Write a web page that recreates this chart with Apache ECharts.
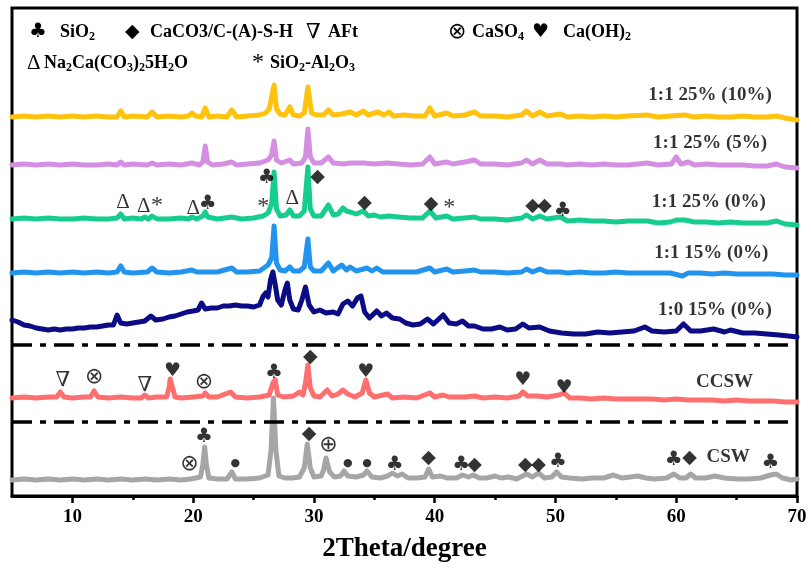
<!DOCTYPE html>
<html><head><meta charset="utf-8">
<script src="https://cdn.jsdelivr.net/npm/echarts@6/dist/echarts.min.js"></script>
<style>html,body{margin:0;padding:0;background:#fff}#c{width:811px;height:568px}</style>
</head><body><div id="c"></div>
<script>
// ---- axis ticks ----
const xMajorTicks = [10, 20, 30, 40, 50, 60, 70];
const xMinorTicks = [15, 25, 35, 45, 55, 65];

// ---- trace names, colours and vertical offsets (stacking) ----
const traceNames = ['CSW', 'CCSW', '1:0 15% (0%)', '1:1 15% (0%)', '1:1 25% (0%)', '1:1 25% (5%)', '1:1 25% (10%)'];
const traceColors = ['#A6A6A6', '#FF6F6F', '#0B0B85', '#2294EE', '#17CC8F', '#D48FE3', '#FFC20E'];
const traceOffsets = [16, 98, 161, 223, 277, 331, 379];

// ---- intensities [2theta, counts] relative to each trace's offset ----
const csw = [[5,0],[6,1],[7,0],[8,1],[9,0],[10,1],[11,0],[12,1],[13,0],[14,1],[15,0],[16,1],[17,0],[18,1],[19,0],[19.8,1],[20.6,3],[20.8,15],[20.95,33],[21.1,15],[21.3,2],[22,1],[22.8,1],[23.2,8],[23.5,1],[24.5,1],[25.5,2],[26.2,5],[26.45,30],[26.65,82],[26.85,30],[27.1,4],[27.6,2],[28.2,2],[28.8,3],[29.2,12],[29.45,36],[29.7,12],[30,3],[30.6,4],[30.8,10],[31,22],[31.3,8],[31.7,3],[32.2,4],[32.5,9],[32.8,4],[33.5,3],[34.1,5],[34.4,9],[34.8,3],[35.5,2],[36.1,4],[36.5,7],[36.9,4],[37.3,6],[37.8,2],[38.5,2],[39.2,3],[39.5,11],[39.8,3],[40.5,4],[41,2],[41.8,2],[42.3,5],[42.8,3],[43.2,5],[43.7,2],[44.3,2],[45,4],[45.5,2],[46.1,3],[46.8,1],[47.6,6],[48.1,3],[48.6,7],[49.1,2],[49.7,3],[50.1,8],[50.5,3],[51.2,2],[52.2,1],[53,2],[54,2],[54.8,5],[55.5,2],[56.2,3],[56.8,4],[57.5,2],[58.2,1],[59.2,2],[59.8,6],[60.3,2],[60.8,2],[61.2,6],[61.6,2],[62.4,2],[63.2,4],[64,2],[65,1],[66,1],[67,2],[67.8,5],[68.3,6],[68.8,2],[69.5,0],[70,1]];
const ccsw = [[5,0],[6,1],[7,0],[8,1],[8.7,1],[9,6],[9.3,1],[10,0],[11,1],[11.5,1],[11.8,7],[12.1,1],[13,0],[14,1],[15,0],[15.7,0],[16,3],[16.3,0],[17,1],[17.8,1],[18,10],[18.1,19],[18.3,10],[18.5,1],[19,0],[20,1],[20.8,2],[21,5],[21.3,1],[22,1],[23.1,6],[23.5,1],[24.5,0],[25.5,1],[26.3,3],[26.6,15],[26.8,18],[27,3],[27.5,1],[28.3,2],[28.8,6],[29.1,3],[29.3,15],[29.5,33],[29.7,10],[30,2],[30.5,1],[31.1,8],[31.5,2],[32,4],[32.4,8],[32.8,4],[33.4,1],[34,5],[34.3,18],[34.6,5],[35,1],[36.1,4],[36.5,0],[37.5,1],[38.5,0],[39.6,5],[40,1],[40.7,3],[41.2,1],[42.5,1],[43.3,2],[44,0],[45,1],[46,0],[47,2],[47.3,6],[47.7,2],[48.5,2],[49.3,1],[50.3,3],[50.7,5],[51.2,0],[52,0],[53,-1],[54,0],[55,-1],[56,-1],[57,-1],[58,-1],[59,-2],[60,-1],[61,-2],[62,-2],[63,-2],[64,-3],[65,-2],[66,-3],[67,-3],[68,-3],[69,-4],[70,-4]];
const r10s15 = [[5,15],[5.5,13],[6,10],[6.5,9],[7,7],[7.5,6],[8,5],[8.5,6],[9,5],[9.5,6],[10,6],[10.5,7],[11,7],[11.5,8],[12,8],[12.5,9],[13,10],[13.4,10],[13.7,20],[14,12],[14.5,11],[15,12],[15.5,13],[16,14],[16.5,19],[16.9,15],[17.5,16],[18,18],[18.5,19],[19,21],[19.5,23],[20,24],[20.4,25],[20.7,32],[21,26],[21.5,27],[22,27],[22.5,29],[23,29],[23.5,30],[24,29],[24.5,29],[25,28],[25.5,30],[25.8,39],[26,42],[26.2,38],[26.4,55],[26.6,63],[26.8,50],[27,35],[27.3,30],[27.6,45],[27.8,52],[28,35],[28.3,26],[28.7,25],[29,35],[29.3,48],[29.6,30],[30,23],[30.5,25],[31,22],[31.6,23],[32,21],[32.4,31],[32.8,34],[33.2,29],[33.6,37],[33.9,39],[34.2,23],[34.6,17],[35.2,24],[35.6,19],[36,22],[36.5,17],[37.1,16],[37.6,12],[38.2,10],[38.8,11],[39.4,16],[39.9,11],[40.7,20],[41.2,12],[41.8,11],[42.3,14],[42.8,9],[43.3,9],[44,6],[44.7,6],[45.4,8],[46,5],[46.7,6],[47.3,11],[47.8,7],[48.7,8],[49.5,4],[50.5,2],[51.5,1],[52.5,1],[53.5,3],[54.5,2],[55.5,3],[56.5,4],[57.4,8],[58,4],[59,3],[60,4],[60.6,11],[61.2,4],[62,4],[63.1,6],[64,3],[64.5,5],[65.5,2],[66.5,2],[67.5,1],[68.5,0],[69.3,-1],[70,-2]];
const r11s15 = [[5,0],[6,1],[7,0],[8,1],[9,0],[10,1],[11,0],[12,1],[13,0],[13.7,1],[14,7],[14.3,1],[15,0],[16.2,1],[16.6,5],[17,1],[18,0],[19,1],[19.9,3],[20.3,1],[21,1],[22,1],[23.2,5],[23.6,1],[24.5,1],[25.5,2],[26.2,8],[26.5,15],[26.7,47],[26.9,10],[27.2,3],[27.6,2],[28,6],[28.3,2],[28.8,2],[29.2,6],[29.5,34],[29.7,6],[30,2],[30.6,2],[31.2,10],[31.6,2],[32.3,8],[32.7,3],[33,6],[33.5,2],[34.4,5],[34.8,2],[35.2,5],[35.7,1],[36.5,1],[37.5,1],[38.5,1],[39.6,5],[40,1],[41,4],[41.5,1],[42.5,2],[43.3,3],[43.8,1],[45,1],[46,0],[47.2,1],[47.6,4],[48.1,1],[48.7,4],[49.3,1],[50.4,1],[51,0],[52,1],[53,0],[54,0],[55,1],[56,0],[57.6,0],[58.5,0],[59.5,0],[60.5,-3],[61,0],[62,0],[63,-1],[64,0],[65,-1],[66,-1],[67,-1],[68,-1],[69,-2],[70,-2]];
const r11s25a0 = [[5,0],[6,1],[7,0],[8,1],[9,0],[10,0],[11,1],[12,0],[13,0],[13.7,1],[14,5],[14.3,0],[15,1],[15.7,0],[16,2],[16.3,0],[16.6,3],[17,0],[18,0],[19,1],[19.6,0],[19.9,2],[20.3,0],[20.8,3],[21,7],[21.2,2],[22,0],[23.2,2],[24,0],[25,1],[25.8,3],[26.2,6],[26.5,15],[26.7,47],[26.9,10],[27.2,3],[27.7,4],[28,9],[28.3,3],[28.8,3],[29.2,8],[29.5,52],[29.7,10],[30,3],[30.6,3],[31.2,14],[31.6,4],[32,5],[32.4,11],[32.7,8],[33,7],[33.5,5],[34.1,8],[34.5,3],[35,4],[35.5,2],[36.2,3],[37,2],[38,1],[39,1],[39.6,8],[40.1,1],[41,3],[41.5,0],[42.5,1],[43.3,2],[43.8,0],[45,0],[46,-1],[47.2,1],[47.6,4],[48.1,0],[48.7,3],[49.3,0],[50.4,2],[51,-2],[52,-1],[53,-2],[54,-2],[55,-3],[56,-2],[57.6,-2],[58.5,-4],[59.5,-3],[60,-1],[60.7,-1],[61.5,-3],[62.5,-3],[63.5,-4],[64.5,-3],[65.5,-4],[66.5,-4],[67.5,-4],[68.3,-2],[69,-5],[70,-6]];
const r11s25a5 = [[5,0],[6,1],[7,0],[8,1],[9,0],[10,1],[11,0],[12,0],[13,1],[13.7,0],[14,3],[14.3,0],[15,1],[16.2,0],[16.6,2],[17,0],[18,1],[19,0],[19.9,2],[20.5,0],[20.8,3],[21,19],[21.2,3],[21.6,0],[22.5,1],[23.2,3],[23.6,0],[24.5,1],[25.5,2],[26.2,5],[26.5,10],[26.7,24],[26.9,5],[27.3,2],[28,5],[28.3,1],[29,2],[29.3,8],[29.5,36],[29.7,8],[30,2],[30.6,2],[31.2,8],[31.6,2],[32.5,1],[33,2],[34.1,2],[35,1],[36,2],[37,1],[38,0],[39,1],[39.6,8],[40,1],[41,3],[41.5,1],[42.5,3],[43.3,5],[43.8,1],[45,1],[46,0],[47.2,2],[47.6,5],[48.1,1],[48.7,5],[49.3,1],[50.4,1],[51,0],[52,1],[53,0],[54,1],[55,0],[56,0],[57.6,2],[58.5,0],[59.6,1],[60,8],[60.4,1],[61,3],[61.5,0],[62.5,1],[63.5,0],[64.5,0],[65.5,0],[66.5,-1],[67.5,-1],[68.3,1],[69,-2],[70,-3]];
const r11s25a10 = [[5,0],[6,1],[7,0],[8,1],[9,0],[10,1],[11,0],[12,1],[13,0],[13.7,0],[14,6],[14.3,0],[15,1],[16.2,0],[16.6,5],[17,0],[18,1],[19,0],[19.6,1],[19.9,4],[20.2,1],[20.7,0],[21,9],[21.3,0],[22,1],[22.8,0],[23.2,7],[23.6,0],[24.5,1],[25.5,2],[26,4],[26.3,8],[26.5,20],[26.7,32],[26.9,8],[27.2,3],[27.6,2],[28,10],[28.3,2],[28.8,1],[29.2,4],[29.5,30],[29.8,4],[30.2,2],[30.8,2],[31.2,7],[31.6,2],[32.3,3],[33,5],[33.5,2],[34.1,6],[34.5,2],[35.3,5],[35.8,2],[36.2,5],[36.6,1],[37.5,2],[38.3,1],[39.2,1],[39.6,9],[40,1],[41,4],[41.5,1],[42.5,2],[43.3,5],[43.8,1],[45,1],[46,0],[47.2,2],[47.6,6],[48.1,1],[48.7,5],[49.3,1],[50.4,3],[51,0],[52,1],[53,0],[54,1],[55,0],[56,1],[57.6,2],[58.5,0],[59.5,1],[60.7,2],[61.5,0],[62.5,1],[63.5,0],[64.5,0],[65.5,1],[66.5,0],[67.5,0],[68.3,1],[69,-1],[70,-3]];
const traceData = [csw, ccsw, r10s15, r11s15, r11s25a0, r11s25a5, r11s25a10];

// ---- dash-dot divider levels ----
const dividerLevels = [151, 74];

// ---- phase markers [2theta, level, glyph] ----
const peakMarks = [
  [14.2,294,'Δ'],[15.9,290,'Δ'],[17.0,290,'*'],[20.0,288,'Δ'],[21.2,292,'♣'],[25.8,289,'*'],[26.1,318,'♣'],[28.2,298,'Δ'],[30.3,319,'◆'],[34.2,293,'◆'],[39.7,292,'◆'],[41.2,288,'*'],[48.1,290,'◆'],[49.1,290,'◆'],[50.6,285,'♣'],
  [9.2,116,'∇'],[11.8,119,'⊗'],[16.0,111,'∇'],[18.3,125,'♥'],[20.9,114,'⊗'],[26.7,123,'♣'],[29.7,139,'◆'],[34.3,124,'♥'],[47.3,116,'♥'],[50.7,108,'♥'],
  [20.9,59,'♣'],[19.7,32,'⊗'],[23.5,33,'●'],[29.6,62,'◆'],[31.2,51,'⊕'],[32.8,33,'●'],[34.4,33,'●'],[36.7,31,'♣'],[39.5,38,'◆'],[42.2,31,'♣'],[43.3,31,'◆'],[47.5,31,'◆'],[48.6,31,'◆'],[50.2,34,'♣'],[59.8,36,'♣'],[61.1,38,'◆'],[67.8,33,'♣']
];
// ---- trace labels [2theta, level, text] ----
const traceLabels = [
  [62.8,401,'1:1 25% (10%)'],[62.8,353,'1:1 25% (5%)'],[62.7,294,'1:1 25% (0%)'],[62.9,243,'1:1 15% (0%)'],[63.2,186,'1:0 15% (0%)'],[64.0,114,'CCSW'],[64.3,39,'CSW']
];
// ---- legend entries [glyph, text] ----
const legendRow1 = [['♣','SiO_2'],['◆','CaCO3/C-(A)-S-H'],['∇','AFt'],['⊗','CaSO_4'],['♥','Ca(OH)_2']];
const legendRow2 = [['Δ','Na_2Ca(CO_3)_25H_2O'],['*','SiO_2-Al_2O_3']];

const SERIF = "'Liberation Serif', 'Times New Roman', serif";
const glyphKey = {'♣':'club','◆':'dia','Δ':'delta','∇':'nabla','⊗':'otimes','⊕':'oplus','♥':'heart','*':'star','●':'dot'};
const glyphRich = {
  club:{fontFamily:'DejaVu Sans',fontSize:20,color:'#000'},
  dia:{fontFamily:'DejaVu Sans',fontSize:19,color:'#000'},
  delta:{fontFamily:SERIF,fontSize:21,color:'#000'},
  nabla:{fontFamily:SERIF+", 'DejaVu Serif'",fontSize:21,color:'#000'},
  otimes:{fontFamily:'DejaVu Sans',fontSize:22,color:'#000'},
  oplus:{fontFamily:'DejaVu Sans',fontSize:22,color:'#000'},
  heart:{fontFamily:'DejaVu Sans',fontSize:19,color:'#000'},
  star:{fontFamily:SERIF,fontSize:24,color:'#000'},
  dot:{fontFamily:'DejaVu Sans',fontSize:11,color:'#000'}
};
function subRich(s){
  let out='', buf='';
  for(let i=0;i<s.length;i++){
    if(s[i]==='_'){ if(buf){out+='{t|'+buf+'}';buf='';} out+='{s|'+s[i+1]+'}'; i++; }
    else buf+=s[i];
  }
  if(buf) out+='{t|'+buf+'}';
  return out;
}
const legRich = {
  t:{fontFamily:SERIF,fontWeight:'bold',fontSize:18,color:'#000',lineHeight:20},
  s:{fontFamily:SERIF,fontWeight:'bold',fontSize:12,color:'#000',lineHeight:12,padding:[10,0,0,0]}
};
const legendX1 = [[29,60],[125,150],[306,328],[448,472],[532,563]];
const legendX2 = [[27,44],[252,270]];
const graphics = [];
function addLegendRow(row, xs, yc){
  row.forEach((it,i)=>{
    graphics.push({type:'text',x:xs[i][0],y:yc,style:{text:'{'+glyphKey[it[0]]+'|'+it[0]+'}',rich:glyphRich,verticalAlign:'middle'}});
    graphics.push({type:'text',x:xs[i][1],y:yc,style:{text:subRich(it[1]),rich:legRich,verticalAlign:'middle'}});
  });
}
addLegendRow(legendRow1, legendX1, 32);
addLegendRow(legendRow2, legendX2, 63);

const series = [];
traceData.forEach((arr,i)=>{
  series.push({type:'line',name:traceNames[i],data:arr.map(p=>[p[0],p[1]+traceOffsets[i]]),showSymbol:false,symbol:'none',
    lineStyle:{color:traceColors[i],width:5,cap:'round',join:'round'},silent:true,z:2+i});
});
dividerLevels.forEach(l=>{
  series.push({type:'line',data:[[5,l],[70,l]],showSymbol:false,symbol:'none',silent:true,z:20,
    lineStyle:{color:'#000',width:3.5,type:[20,8,6,8]}});
});
series.push({type:'scatter',data:peakMarks,symbolSize:1,itemStyle:{color:'rgba(0,0,0,0)'},silent:true,z:30,
  label:{show:true,position:'inside',formatter:p=>'{'+glyphKey[p.data[2]]+'|'+p.data[2]+'}',rich:glyphRich}});
series.push({type:'scatter',data:traceLabels,symbolSize:1,itemStyle:{color:'rgba(0,0,0,0)'},silent:true,z:30,
  label:{show:true,position:'inside',formatter:p=>p.data[2],fontFamily:SERIF,fontWeight:'bold',fontSize:19,color:'#000'}});

const chart = echarts.init(document.getElementById('c'));
chart.setOption({
  animation:false,
  backgroundColor:'#fff',
  grid:{left:12,right:14,top:8,bottom:72,show:true,borderColor:'#000',borderWidth:3,backgroundColor:'transparent'},
  xAxis:[
    {type:'value',min:5,max:70,position:'bottom',
      axisLine:{show:true,lineStyle:{color:'#000',width:3}},
      axisTick:{show:true,customValues:xMajorTicks,length:7,lineStyle:{color:'#000',width:2.5}},
      axisLabel:{customValues:xMajorTicks,fontFamily:SERIF,fontWeight:'bold',fontSize:19,color:'#000',margin:12},
      splitLine:{show:false},
      name:'2Theta/degree',nameLocation:'middle',nameGap:40,
      nameTextStyle:{fontFamily:SERIF,fontWeight:'bold',fontSize:27,color:'#000'}},
    {type:'value',min:5,max:70,position:'bottom',
      axisLine:{show:false},
      axisTick:{show:true,customValues:xMinorTicks,length:4,lineStyle:{color:'#000',width:2.5}},
      axisLabel:{show:false},splitLine:{show:false}}
  ],
  yAxis:{type:'value',min:0,max:488,show:false,splitLine:{show:false}},
  graphic:graphics,
  series:series
});
</script></body></html>
